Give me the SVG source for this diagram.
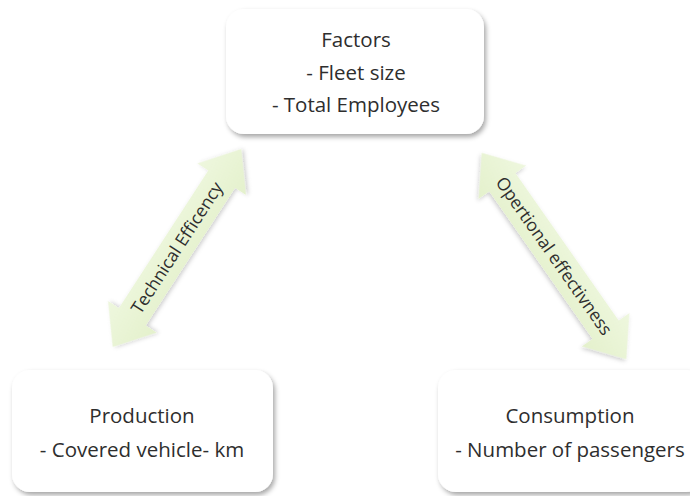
<svg xmlns="http://www.w3.org/2000/svg" width="690" height="496" viewBox="0 0 690 496">
  <defs>
    <filter id="shadow" x="-20%" y="-20%" width="140%" height="150%">
      <feDropShadow dx="2" dy="3" stdDeviation="2.5" flood-color="#000" flood-opacity="0.35"/>
    </filter>
    <filter id="arrowShadow" x="-20%" y="-20%" width="140%" height="140%">
      <feDropShadow dx="1" dy="2" stdDeviation="2" flood-color="#000" flood-opacity="0.2"/>
    </filter>
    <linearGradient id="arrowFill" x1="0" y1="0" x2="0" y2="1">
      <stop offset="0" stop-color="#eef7de"/>
      <stop offset="1" stop-color="#e4f1cc"/>
    </linearGradient>
  </defs>
  <style>
    .box { fill: #ffffff; filter: url(#shadow); }
    .label { font-family: "Open Sans", "Liberation Sans", sans-serif; font-size: 20.5px; fill: #2e2e2e; text-anchor: middle; }
    .arrow { fill: url(#arrowFill); filter: url(#arrowShadow); }
    .alabel { font-family: "Open Sans", "Liberation Sans", sans-serif; font-size: 17.5px; fill: #2e2e2e; text-anchor: middle; font-variant-ligatures: none; }
  </style>
  <rect width="690" height="496" fill="#ffffff"/>

  <!-- double-headed connectors -->
  <g id="connectors">
    <g id="technical-efficiency" transform="translate(177,248) rotate(-57)">
      <path class="arrow" d="M -118 0 L -82 -29 L -82 -16 L 82 -16 L 82 -29 L 118 0 L 82 29 L 82 16 L -82 16 L -82 29 Z"/>
      <text class="alabel" x="0" y="6">Technical Efficency</text>
    </g>
    <g id="operational-effectiveness" transform="translate(554,256) rotate(55)">
      <path class="arrow" d="M -126 0 L -90 -29 L -90 -16 L 90 -16 L 90 -29 L 126 0 L 90 29 L 90 16 L -90 16 L -90 29 Z"/>
      <text class="alabel" x="0" y="6">Opertional effectivness</text>
    </g>
  </g>

  <g id="factors">
    <rect class="box" x="226" y="9" width="258" height="125" rx="18"/>
    <text class="label" x="356" y="47">Factors</text>
    <text class="label" x="356" y="80">- Fleet size</text>
    <text class="label" x="356" y="112">- Total Employees</text>
  </g>

  <g id="production">
    <rect class="box" x="12" y="370" width="261" height="122" rx="18"/>
    <text class="label" x="142" y="423">Production</text>
    <text class="label" x="142" y="457">- Covered vehicle- km</text>
  </g>

  <g id="consumption">
    <rect class="box" x="438" y="370" width="266" height="122" rx="18"/>
    <text class="label" x="570" y="423">Consumption</text>
    <text class="label" x="570" y="457">- Number of passengers</text>
  </g>
</svg>
